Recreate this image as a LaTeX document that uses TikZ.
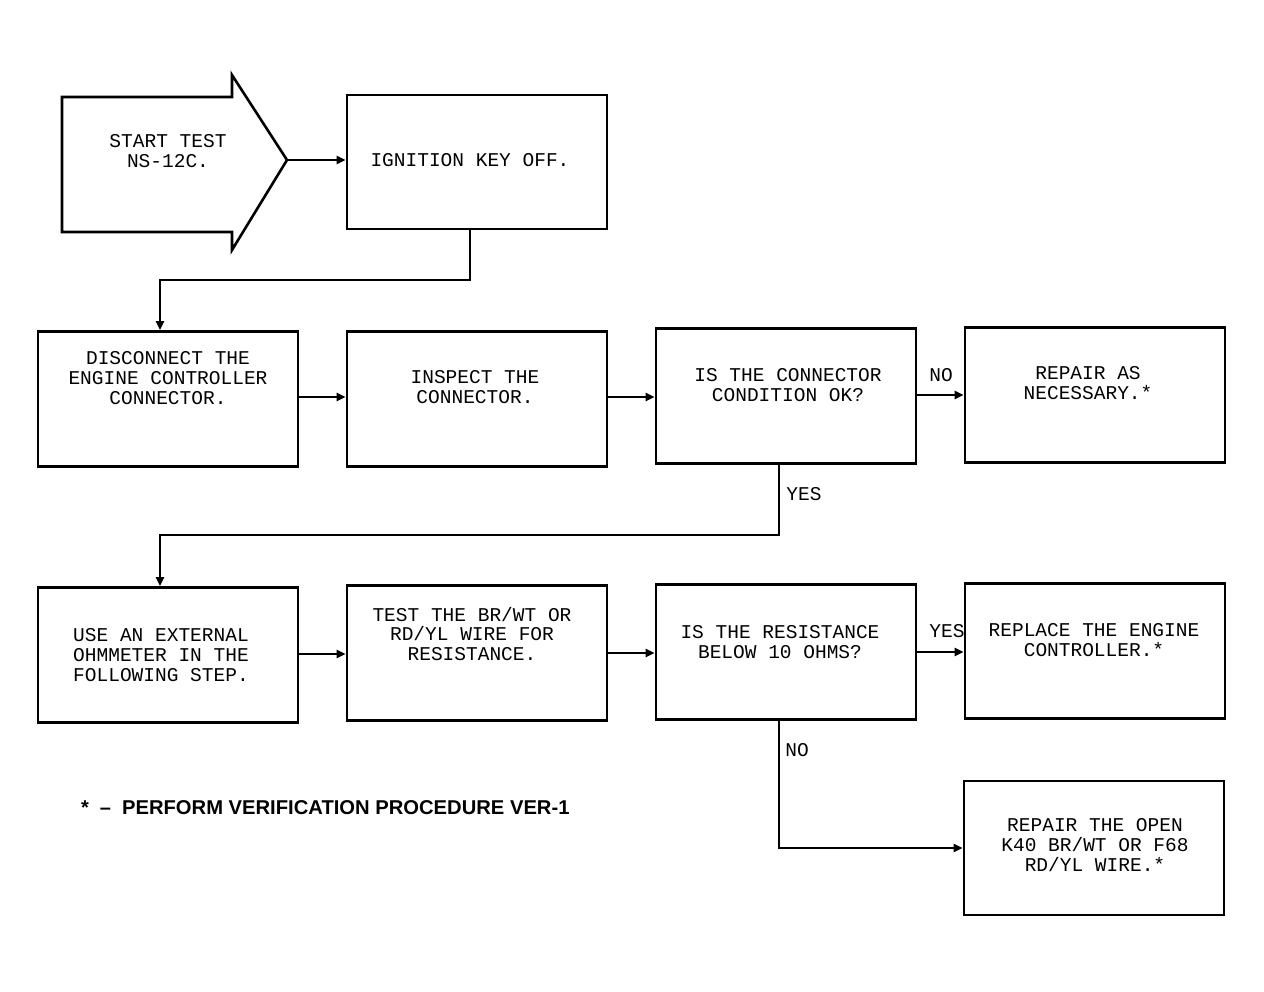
\documentclass[tikz,border=0pt]{standalone}
\usepackage{fontspec}
\setmonofont{Liberation Mono}
\setsansfont{Liberation Sans}
\usetikzlibrary{arrows.meta}
\begin{document}
\begin{tikzpicture}[x=1pt,y=-1pt,
  box/.style={draw, line width=2.6pt, minimum width=260pt, minimum height=135pt, inner sep=0pt},
  txt/.style={font=\fontsize{19.5}{19.8}\selectfont\ttfamily, align=center, inner sep=0pt},
  lbl/.style={font=\fontsize{19.5}{19.8}\selectfont\ttfamily, inner sep=0pt},
  conn/.style={line width=2.5pt, -{Triangle[length=9pt,width=8pt]}},
  line/.style={line width=2.5pt}]
\useasboundingbox (0,0) rectangle (1264,992);
% start arrow
\draw[line width=2.6pt, line join=miter] (62,97) -- (232,97) -- (232,75) -- (287,160) -- (232,250) -- (232,232) -- (62,232) -- cycle;
\coordinate (tip) at (287,160);
\node[txt] (tstart) at (168,151) {START TEST\\NS-12C.};
% boxes
\node[box, minimum height=134pt] (ign) at (477,162) {};
\node[box] (d1) at (168,399) {};
\node[box] (d2) at (477,399) {};
\node[box] (d3) at (786,396) {};
\node[box] (d4) at (1095,395) {};
\node[box] (e1) at (168,655) {};
\node[box] (e2) at (477,653) {};
\node[box] (e3) at (786,652) {};
\node[box] (e4) at (1095,651) {};
\node[box, minimum height=134pt] (e5) at (1094,848) {};
% texts
\node[txt] (tign) at (470,160) {IGNITION KEY OFF.};
\node[txt] (td1) at (168,378) {DISCONNECT THE\\ENGINE CONTROLLER\\CONNECTOR.};
\node[txt] (td2) at (475,387) {INSPECT THE\\CONNECTOR.};
\node[txt] (td3) at (788,385) {IS THE CONNECTOR\\CONDITION OK?};
\node[txt] (td4) at (1088,383) {REPAIR AS\\NECESSARY.*};
\node[txt] (te1) at (161,655) {USE AN EXTERNAL\\OHMMETER IN THE\\FOLLOWING STEP.};
\node[txt] (te2) at (472,634) {TEST THE BR/WT OR\\RD/YL WIRE FOR\\RESISTANCE.};
\node[txt] (te3) at (780,642) {IS THE RESISTANCE\\BELOW 10 OHMS?};
\node[txt] (te4) at (1094,640) {REPLACE THE ENGINE\\CONTROLLER.*};
\node[txt] (te5) at (1095,845) {REPAIR THE OPEN\\K40 BR/WT OR F68\\RD/YL WIRE.*};
% labels
\node[lbl] (lno1) at (941,375) {NO};
\node[lbl] (lyes1) at (804,494) {YES};
\node[lbl] (lyes2) at (947,631) {YES};
\node[lbl] (lno2) at (797,750) {NO};
% connectors
\draw[conn] (tip) -- (tip -| ign.west);
\coordinate (c1) at (470,280);
\coordinate (c2) at (160,280);
\draw[conn] (ign.south -| c1) -- (c1) -- (c2) -- (c2 |- d1.north);
\draw[conn] (d1.east |- 0,397) -- (d2.west |- 0,397);
\draw[conn] (d2.east |- 0,397) -- (d3.west |- 0,397);
\draw[conn] (d3.east |- 0,395) -- (d4.west |- 0,395);
\coordinate (c3) at (779,535);
\coordinate (c4) at (160,535);
\draw[conn] (d3.south -| c3) -- (c3) -- (c4) -- (c4 |- e1.north);
\draw[conn] (e1.east |- 0,654) -- (e2.west |- 0,654);
\draw[conn] (e2.east |- 0,653) -- (e3.west |- 0,653);
\draw[conn] (e3.east |- 0,652) -- (e4.west |- 0,652);
\coordinate (c5) at (779,848);
\draw[conn] (e3.south -| c5) -- (c5) -- (e5.west |- c5);
% footnote
\node[font=\fontsize{20}{20}\selectfont\sffamily\bfseries, anchor=west, inner sep=0pt] (foot) at (81,808) {*\hspace{11pt}–\hspace{11pt}\scalebox{1.01}[1]{PERFORM VERIFICATION PROCEDURE VER-1}};
\end{tikzpicture}
\end{document}
